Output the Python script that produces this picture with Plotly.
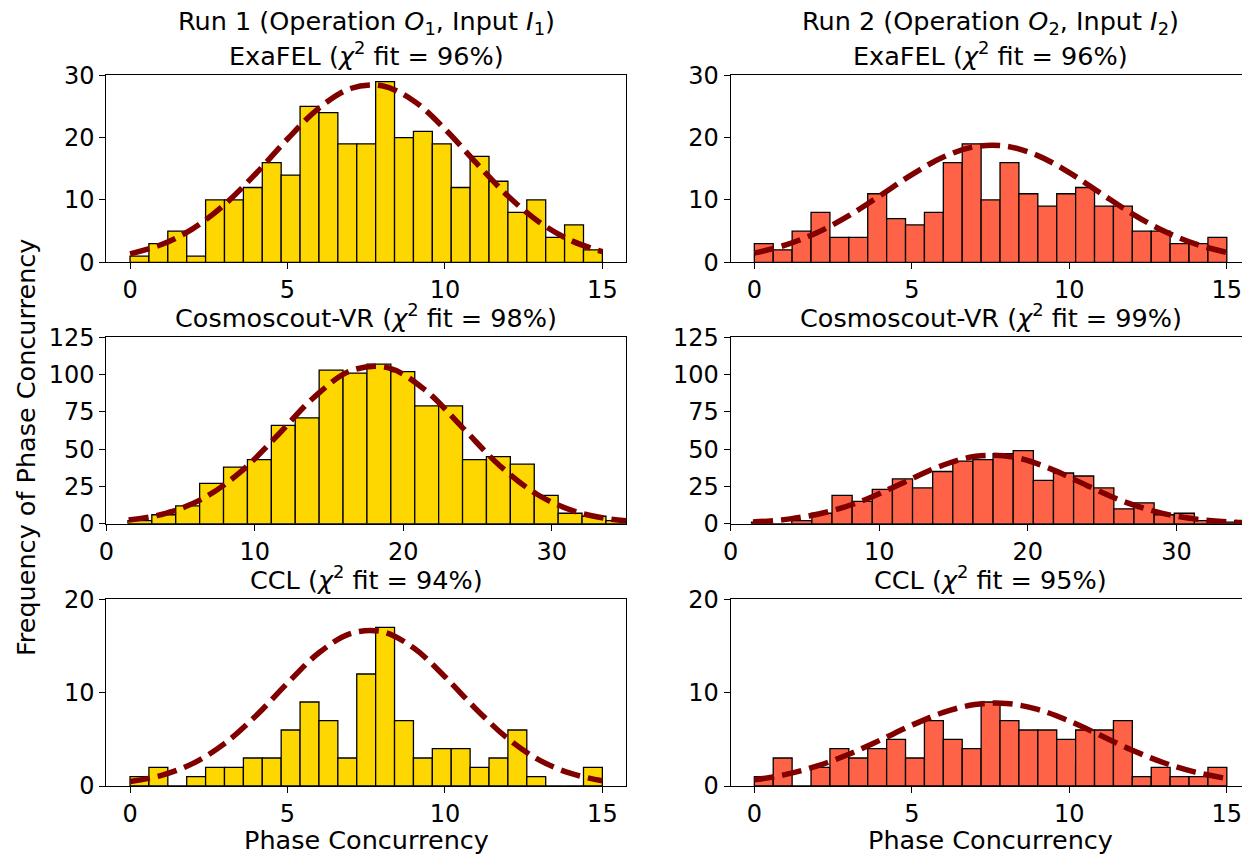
import plotly.graph_objects as go

# ---------------- data ----------------
# Histogram counts, 25 bins of width 0.6 starting at 0 (ExaFEL, CCL)
run1_exafel = [1, 3, 5, 1, 10, 10, 12, 16, 14, 25, 24, 19, 19, 29, 20, 21, 19, 12, 17, 13, 8, 10, 4, 6, 2]
run2_exafel = [3, 2, 5, 8, 4, 4, 11, 7, 6, 8, 16, 19, 10, 16, 11, 9, 11, 12, 9, 9, 5, 5, 3, 3, 4]
run1_ccl = [1, 2, 0, 1, 2, 2, 3, 3, 6, 9, 7, 3, 12, 17, 7, 3, 4, 4, 2, 3, 6, 1, 0, 0, 2]
run2_ccl = [1, 3, 0, 2, 4, 3, 4, 5, 3, 7, 5, 4, 9, 7, 6, 6, 5, 6, 6, 7, 1, 2, 1, 1, 2]
# Cosmoscout-VR histograms (wider bins)
run1_cosmo = [2, 6, 12, 27, 38, 43, 66, 71, 103, 101, 107, 102, 79, 79, 43, 45, 40, 19, 7, 5, 2]
run2_cosmo = [1, 0, 2, 7, 19, 15, 23, 30, 24, 35, 42, 43, 47, 49, 29, 34, 32, 24, 10, 14, 6, 7, 2, 1, 2]

# bin definitions (start, width)
bins_15 = (0.0, 0.6)
bins_cosmo1 = (1.45, 1.61)
bins_cosmo2 = (1.40, 1.355)

# fitted (normal) curves
fit_x_15 = [0, 1, 2, 3, 4, 5, 6, 7, 8, 9, 10, 11, 12, 13, 14, 15]
fit_run1_exafel = [1.36, 2.85, 5.41, 9.26, 14.25, 19.78, 24.74, 27.88, 28.32, 25.92, 21.38, 15.9, 10.65, 6.43, 3.50, 1.71]
fit_run2_exafel = [1.48, 2.78, 4.77, 7.48, 10.72, 14.07, 16.89, 18.55, 18.63, 17.12, 14.39, 11.06, 7.78, 5.01, 2.95, 1.58]
fit_run1_ccl = [0.48, 1.14, 2.42, 4.54, 7.52, 11.02, 14.27, 16.33, 16.54, 14.8, 11.71, 8.2, 5.07, 2.77, 1.34, 0.57]
fit_run2_ccl = [0.66, 1.24, 2.15, 3.40, 4.92, 6.51, 7.88, 8.73, 8.85, 8.2, 6.96, 5.4, 3.83, 2.49, 1.48, 0.80]
fit_x_cosmo = [1.5, 4, 6.5, 9, 11.5, 14, 16.5, 19, 21.5, 24, 26.5, 29, 31.5, 34, 36.5]
fit_run1_cosmo = [2.42, 6.97, 16.88, 34.4, 58.95, 84.9, 102.7, 104.5, 89.4, 64.3, 38.9, 19.75, 8.44, 3.03, 0.92]
fit_run2_cosmo = [1.11, 3.23, 7.84, 15.9, 26.96, 38.18, 45.2, 44.7, 36.97, 25.5, 14.74, 7.11, 2.87, 0.97, 0.27]

col_titles = ["Run 1 (Operation <i>O</i><sub>1</sub>, Input <i>I</i><sub>1</sub>)",
              "Run 2 (Operation <i>O</i><sub>2</sub>, Input <i>I</i><sub>2</sub>)"]
panel_titles = ["ExaFEL (<i>χ</i><sup>2</sup> fit = 96%)", "ExaFEL (<i>χ</i><sup>2</sup> fit = 96%)",
                "Cosmoscout-VR (<i>χ</i><sup>2</sup> fit = 98%)", "Cosmoscout-VR (<i>χ</i><sup>2</sup> fit = 99%)",
                "CCL (<i>χ</i><sup>2</sup> fit = 94%)", "CCL (<i>χ</i><sup>2</sup> fit = 95%)"]
y_ticks = [[0, 10, 20, 30], [0, 25, 50, 75, 100, 125], [0, 10, 20]]
y_ranges = [[0, 30], [0, 125], [0, 20]]
x_ticks_15 = [0, 5, 10, 15]
x_ticks_cosmo = [0, 10, 20, 30]
x_label = "Phase Concurrency"
y_label = "Frequency of Phase Concurrency"

# ---------------- styling / layout ----------------
W, H = 1242, 855
FONT = "DejaVu Sans"
FS = 25.5      # titles / labels
FS_TICK = 24   # tick labels
colors = ["#FFD700", "#FF6347"]
fit_color = "#800000"

col_px = [(106.4, 626.0), (730.7, 1242.0)]
row_px = [(75.3, 262.3), (337.3, 523.7), (599.3, 786.0)]
# visible x-ranges (right column is cut off by the figure edge)
xr_15 = [[-0.75, 15.75], [-0.75, -0.75 + (1242.0 - 730.7) / 31.5]]
xr_cosmo = [[0, 35], [0, (1242.0 - 730.7) / 14.857]]
col_centers = [(106.4 + 626.0) / 2, (730.7 + 1250.3) / 2]

panels = [
    (0, 0, run1_exafel, bins_15, fit_x_15, fit_run1_exafel),
    (0, 1, run2_exafel, bins_15, fit_x_15, fit_run2_exafel),
    (1, 0, run1_cosmo, bins_cosmo1, fit_x_cosmo, fit_run1_cosmo),
    (1, 1, run2_cosmo, bins_cosmo2, fit_x_cosmo, fit_run2_cosmo),
    (2, 0, run1_ccl, bins_15, fit_x_15, fit_run1_ccl),
    (2, 1, run2_ccl, bins_15, fit_x_15, fit_run2_ccl),
]

fig = go.Figure()
layout = dict(width=W, height=H, margin=dict(l=0, r=0, t=0, b=0, pad=0, autoexpand=False),
              plot_bgcolor="white", paper_bgcolor="white", showlegend=False,
              barmode="overlay", font=dict(family=FONT, size=FS, color="black"))
annotations = []

for i, (r, c, counts, (b0, bw), fx, fy) in enumerate(panels):
    n = i + 1
    xa = "x" if n == 1 else f"x{n}"
    ya = "y" if n == 1 else f"y{n}"
    centers = [b0 + bw * (k + 0.5) for k in range(len(counts))]
    fig.add_trace(go.Bar(x=centers, y=counts, width=bw, xaxis=xa, yaxis=ya,
                         marker=dict(color=colors[c], line=dict(color="black", width=1.3)),
                         hoverinfo="skip"))
    fig.add_trace(go.Scatter(x=fx, y=fy, mode="lines", xaxis=xa, yaxis=ya,
                             line=dict(color=fit_color, width=5.5, dash="20px,8px", shape="spline"),
                             hoverinfo="skip"))
    x0, x1 = col_px[c]
    y0, y1 = row_px[r]
    is_cosmo = (r == 1)
    xrange = xr_cosmo[c] if is_cosmo else xr_15[c]
    xticks = x_ticks_cosmo if is_cosmo else x_ticks_15
    common = dict(showline=True, linecolor="black", linewidth=1.1, ticks="outside",
                  ticklen=6, tickwidth=1.1, tickcolor="black", showgrid=False, zeroline=False,
                  automargin=False, ticklabeloverflow="allow",
                  tickfont=dict(family=FONT, size=FS_TICK, color="black"))
    layout["xaxis" if n == 1 else f"xaxis{n}"] = dict(
        common, domain=[x0 / W, x1 / W], range=xrange, tickvals=xticks,
        anchor=ya, mirror=True)
    layout["yaxis" if n == 1 else f"yaxis{n}"] = dict(
        common, domain=[1 - y1 / H, 1 - y0 / H], range=y_ranges[r], tickvals=y_ticks[r],
        anchor=xa, mirror=(c == 0))
    annotations.append(dict(text=panel_titles[i], xref="paper", yref="paper",
                            x=col_centers[c] / W, y=1 - (y0 - 21.5) / H,
                            xanchor="center", yanchor="middle",
                            showarrow=False, font=dict(family=FONT, size=FS)))

for c in range(2):
    annotations.append(dict(text=col_titles[c], xref="paper", yref="paper",
                            x=col_centers[c] / W, y=1 - 22 / H, xanchor="center", yanchor="middle",
                            showarrow=False, font=dict(family=FONT, size=FS)))
    annotations.append(dict(text=x_label, xref="paper", yref="paper",
                            x=col_centers[c] / W, y=1 - 840 / H, xanchor="center", yanchor="middle",
                            showarrow=False, font=dict(family=FONT, size=FS)))
annotations.append(dict(text=y_label, xref="paper", yref="paper", x=26 / W, y=1 - 448 / H,
                        xanchor="center", yanchor="middle", textangle=-90, showarrow=False,
                        font=dict(family=FONT, size=FS)))

layout["annotations"] = annotations
fig.update_layout(**layout)
fig.write_html("out.html",
               config={"displayModeBar": False},
               post_script="document.body.style.margin='0';document.body.style.overflow='hidden';")
